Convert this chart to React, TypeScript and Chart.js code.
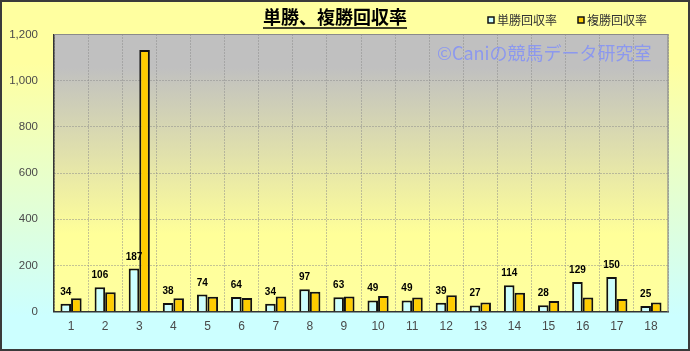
import React, { useEffect, useRef } from "react";
import { Chart, registerables } from "chart.js";

Chart.register(...registerables);

const categories = ["1","2","3","4","5","6","7","8","9","10","11","12","13","14","15","16","17","18"];
const tanshoValues = [34,106,187,38,74,64,34,97,63,49,49,39,27,114,28,129,150,25];
const fukushoValues = [58,84,1133,58,65,59,66,86,66,68,62,71,40,82,46,62,55,40];
const seriesNames = ["単勝回収率", "複勝回収率"];
const titleText = "単勝、複勝回収率";
const watermarkText = "©Caniの競馬データ研究室";
const yTicks = [0, 200, 400, 600, 800, 1000, 1200];

const CJK = '"Noto Sans CJK JP", "Noto Sans", sans-serif';
const SANS = '"Liberation Sans", Arial, sans-serif';
const CYAN = "#CCFFFF";
const GOLD = "#FFCC00";

const decorPlugin = {
  id: "decor",
  beforeDraw(chart: any) {
    const { ctx, width, height, chartArea } = chart;
    ctx.save();
    const g = ctx.createLinearGradient(0, 0, 0, height);
    g.addColorStop(0, "#FFFFA0");
    g.addColorStop(0.18, "#FFFFA0");
    g.addColorStop(0.9, "#CCFFFF");
    g.addColorStop(1, "#CCFFFF");
    ctx.fillStyle = g;
    ctx.fillRect(0, 0, width, height);
    const { left, top, right, bottom } = chartArea;
    const pg = ctx.createLinearGradient(0, top, 0, bottom);
    pg.addColorStop(0, "#C0C0C0");
    pg.addColorStop(0.12, "#C0C0C0");
    pg.addColorStop(0.72, "#FFFF99");
    pg.addColorStop(1, "#FFFFA0");
    ctx.fillStyle = pg;
    ctx.fillRect(left, top, right - left, bottom - top);
    ctx.restore();
  },
  beforeDatasetsDraw(chart: any) {
    const { ctx, chartArea } = chart;
    ctx.save();
    ctx.strokeStyle = "#8A8A8A";
    ctx.lineWidth = 1.2;
    ctx.beginPath();
    ctx.moveTo(chartArea.left, chartArea.top);
    ctx.lineTo(chartArea.right, chartArea.top);
    ctx.lineTo(chartArea.right, chartArea.bottom);
    ctx.stroke();
    ctx.font = `18px ${CJK}`;
    ctx.fillStyle = "#8C98EE";
    ctx.textAlign = "left";
    ctx.textBaseline = "middle";
    ctx.fillText(watermarkText, 437, 53);
    ctx.restore();
  },
  afterDatasetsDraw(chart: any) {
    const { ctx } = chart;
    const meta = chart.getDatasetMeta(0);
    ctx.save();
    ctx.font = `bold 10px ${SANS}`;
    ctx.fillStyle = "#000";
    ctx.textAlign = "center";
    ctx.textBaseline = "alphabetic";
    meta.data.forEach((bar: any, i: number) => {
      ctx.fillText(String(tanshoValues[i]), bar.x, bar.y - 9);
    });
    ctx.restore();
  },
  afterDraw(chart: any) {
    const { ctx, width, height } = chart;
    ctx.save();
    ctx.font = `bold 18px ${CJK}`;
    ctx.fillStyle = "#000";
    ctx.textAlign = "center";
    ctx.textBaseline = "alphabetic";
    ctx.fillText(titleText, 335, 24);
    const tw = ctx.measureText(titleText).width;
    ctx.strokeStyle = "#000";
    ctx.lineWidth = 1.5;
    ctx.beginPath();
    ctx.moveTo(335 - tw / 2, 28);
    ctx.lineTo(335 + tw / 2, 28);
    ctx.stroke();
    const items = [
      { x: 488, color: CYAN, label: seriesNames[0] },
      { x: 578, color: GOLD, label: seriesNames[1] },
    ];
    ctx.font = `12px ${CJK}`;
    ctx.textAlign = "left";
    ctx.textBaseline = "middle";
    items.forEach((it) => {
      ctx.fillStyle = it.color;
      ctx.fillRect(it.x, 17, 6, 6);
      ctx.strokeStyle = "#111";
      ctx.lineWidth = 1.5;
      ctx.strokeRect(it.x, 17, 6, 6);
      ctx.fillStyle = "#333";
      ctx.fillText(it.label, it.x + 9, 20.5);
    });
    ctx.strokeStyle = "#3A3A3A";
    ctx.lineWidth = 2;
    ctx.strokeRect(1, 1, width - 2, height - 2);
    ctx.restore();
  },
};

export default function App() {
  const ref = useRef<HTMLCanvasElement | null>(null);
  useEffect(() => {
    if (!ref.current) return;
    const chart = new Chart(ref.current, {
      type: "bar",
      data: {
        labels: categories,
        datasets: [
          {
            label: seriesNames[0],
            data: tanshoValues,
            backgroundColor: CYAN,
            borderColor: "#111",
            borderWidth: 2,
          },
          {
            label: seriesNames[1],
            data: fukushoValues,
            backgroundColor: GOLD,
            borderColor: "#111",
            borderWidth: 2,
          },
        ],
      },
      options: {
        responsive: false,
        animation: false,
        devicePixelRatio: 1,
        layout: { padding: { top: 34.5, right: 22, left: 0, bottom: 0 } },
        datasets: { bar: { categoryPercentage: 0.62, barPercentage: 1 } },
        plugins: {
          legend: { display: false },
          title: { display: false },
          tooltip: { enabled: false },
        },
        scales: {
          x: {
            grid: { color: "#8A8A8A", lineWidth: 1, drawTicks: false, offset: true },
            border: { color: "#333", width: 1.5, dash: [1, 2] },
            ticks: { color: "#4A4A4A", font: { family: SANS, size: 12 }, padding: 8 },
            afterFit: (s: any) => { s.height = 39.3; },
          },
          y: {
            min: 0,
            max: 1200,
            afterBuildTicks: (s: any) => { s.ticks = yTicks.map((v) => ({ value: v })); },
            grid: { color: "#8A8A8A", lineWidth: 1, drawTicks: false },
            border: { color: "#333", width: 1.5, dash: [1, 2] },
            ticks: {
              color: "#4A4A4A",
              font: { family: SANS, size: 11.5 },
              padding: 16,
              callback: (v: any) => Number(v).toLocaleString("en-US"),
            },
            afterFit: (s: any) => { s.width = 54; },
          },
        },
      },
      plugins: [decorPlugin],
    });
    return () => chart.destroy();
  }, []);
  return (
    <div style={{ position: "absolute", left: 0, top: 0, width: 690, height: 351 }}>
      <canvas ref={ref} width={690} height={351} style={{ display: "block" }} />
    </div>
  );
}
